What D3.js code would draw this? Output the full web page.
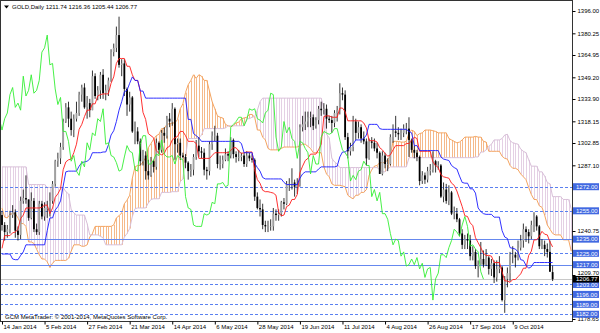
<!DOCTYPE html>
<html>
<head>
<meta charset="utf-8">
<script src="https://cdn.jsdelivr.net/npm/d3@7/dist/d3.min.js"></script>
<style>
  body { margin: 0; background: #fff; }
  text { font-family: "Liberation Sans", Arial, sans-serif; }
</style>
</head>
<body>
<svg id="chart" width="600" height="333"></svg>
<script>
// GOLD daily bars, 14 Jan 2014 .. 30 Oct 2014 (weekdays)
var open = [1252,1245,1240,1242,1252,1254,1241,1238,1262,1264, 1263,1250,1262,1242,1240,1260,1251,1257,1257,1262,
  1274,1290,1292,1300,1318,1328,1320,1312,1320,1324, 1337,1342,1328,1331,1326,1350,1336,1340,1351,1338,
  1340,1347,1367,1370,1379,1358,1359,1341,1330,1335, 1311,1311,1304,1290,1294,1283,1280,1290,1286,1303,
  1298,1310,1308,1320,1318,1327,1302,1303,1294,1293, 1289,1283,1284,1293,1301,1297,1296,1284,1283,1302,
  1308,1308,1288,1288,1291,1295,1294,1305,1295,1293, 1293,1294,1288,1294,1292,1291,1265,1257,1256,1245,
  1244,1244,1244,1253,1252,1253,1261,1260,1274,1274, 1275,1272,1273,1314,1316,1318,1321,1321,1315,1319,
  1327,1326,1327,1320,1319,1317,1324,1326,1338,1337, 1307,1297,1300,1318,1310,1314,1306,1304,1292,1304,
  1303,1299,1296,1281,1294,1288,1288,1307,1311,1310, 1309,1310,1313,1313,1305,1298,1296,1293,1276,1280,
  1277,1283,1284,1290,1287,1287,1265,1270,1262,1268, 1253,1253,1249,1239,1231,1235,1234,1223,1226,1216,
  1217,1221,1217,1222,1214,1218,1208,1214,1215,1192, 1207,1211,1224,1224,1222,1229,1234,1242,1240,1237,
  1245,1251,1244,1230,1231,1228,1226,1211.74];
var high = [1255,1247,1245,1255,1259,1256,1244,1265,1270,1280, 1263,1268,1264,1246,1262,1262,1261,1262,1268,1276,
  1291,1296,1303,1320,1331,1332,1325,1323,1332,1339, 1344,1345,1336,1334,1354,1352,1343,1353,1355,1344,
  1349,1369,1373,1385,1392,1362,1362,1342,1339,1336, 1318,1314,1306,1298,1297,1291,1293,1291,1306,1304,
  1312,1314,1322,1324,1331,1328,1306,1306,1296,1295, 1290,1288,1295,1305,1307,1300,1299,1286,1304,1311,
  1315,1310,1294,1294,1299,1297,1307,1306,1297,1298, 1296,1296,1297,1296,1295,1292,1268,1263,1260,1248,
  1248,1249,1257,1256,1256,1262,1264,1276,1278,1285, 1277,1278,1316,1322,1325,1325,1325,1323,1321,1329,
  1332,1331,1330,1322,1322,1326,1329,1345,1342,1340, 1310,1303,1322,1320,1318,1316,1311,1306,1306,1307,
  1306,1303,1297,1297,1296,1292,1309,1316,1322,1314, 1313,1316,1317,1321,1306,1301,1298,1294,1283,1282,
  1286,1288,1297,1291,1290,1288,1275,1274,1273,1269, 1258,1257,1250,1242,1238,1239,1238,1230,1228,1220,
  1233,1227,1228,1223,1221,1220,1220,1223,1216,1209, 1215,1226,1230,1226,1234,1238,1246,1244,1242,1248,
  1254,1252,1245,1235,1234,1232,1234,1216.36];
var low = [1241,1234,1236,1239,1250,1236,1234,1235,1260,1260, 1248,1249,1240,1238,1238,1249,1248,1250,1251,1260,
  1272,1286,1288,1298,1317,1314,1308,1307,1318,1322, 1332,1327,1320,1321,1326,1334,1333,1334,1334,1333,
  1336,1346,1364,1367,1356,1350,1336,1322,1325,1310, 1302,1302,1287,1287,1277,1277,1279,1282,1284,1295,
  1296,1303,1306,1314,1315,1291,1296,1291,1292,1285, 1277,1279,1280,1291,1293,1292,1280,1277,1280,1298,
  1304,1285,1284,1285,1290,1290,1292,1292,1289,1290, 1290,1286,1286,1290,1289,1262,1256,1251,1242,1240,
  1240,1241,1241,1248,1248,1251,1256,1259,1269,1270, 1265,1267,1272,1311,1312,1314,1314,1312,1313,1316,
  1322,1323,1313,1317,1310,1314,1318,1323,1333,1305, 1292,1294,1297,1305,1306,1303,1302,1287,1291,1299,
  1297,1292,1281,1280,1285,1283,1287,1303,1307,1305, 1305,1307,1309,1293,1296,1292,1290,1273,1274,1274,
  1275,1280,1282,1282,1284,1264,1261,1260,1259,1252, 1249,1247,1237,1228,1228,1228,1220,1220,1214,1208,
  1217,1215,1216,1210,1209,1204,1205,1211,1191,1183, 1201,1205,1218,1215,1220,1227,1229,1233,1232,1235,
  1240,1241,1228,1228,1223,1222,1212,1205.44];
var close = [1245,1240,1242,1252,1254,1241,1238,1262,1264,1263, 1250,1262,1242,1240,1260,1251,1257,1257,1262,1274,
  1290,1292,1300,1318,1328,1320,1312,1320,1324,1337, 1342,1328,1331,1326,1350,1336,1340,1351,1338,1340,
  1347,1367,1370,1379,1358,1359,1341,1330,1335,1311, 1311,1304,1290,1294,1283,1280,1290,1286,1303,1298,
  1310,1308,1320,1318,1327,1302,1303,1294,1293,1289, 1283,1284,1293,1301,1297,1296,1284,1283,1302,1308,
  1308,1288,1288,1291,1295,1294,1305,1295,1293,1293, 1294,1288,1294,1292,1291,1265,1257,1256,1245,1244,
  1244,1244,1253,1252,1253,1261,1260,1274,1274,1275, 1272,1273,1314,1316,1318,1321,1321,1315,1319,1327,
  1326,1327,1320,1319,1317,1324,1326,1338,1337,1307, 1297,1300,1318,1310,1314,1306,1304,1292,1304,1303,
  1299,1296,1281,1294,1288,1288,1307,1311,1310,1309, 1310,1313,1313,1305,1298,1296,1293,1276,1280,1277,
  1283,1284,1290,1287,1287,1265,1270,1262,1268,1253, 1253,1249,1239,1231,1235,1234,1223,1226,1216,1217,
  1221,1217,1222,1214,1218,1208,1214,1215,1192,1207, 1211,1224,1224,1222,1229,1234,1242,1240,1237,1245,
  1251,1244,1230,1231,1228,1226,1212,1206.77];

// Ichimoku lines, one value per bar
var tenkan = [1228.5,1237.5,1237.5,1237.5,1239.5,1240,1242,1249.5,1252,1257, 1257,1257,1257,1257,1257,1257.5,1259,1259,1253,1257,
  1264.5,1267,1270.5,1284,1289.5,1291,1291.5,1296,1302,1312.5, 1316,1321.5,1326,1326,1330.5,1330.5,1336,1337,1337.5,1337.5,
  1337.5,1345,1349.5,1359,1362.5,1362.5,1362.5,1357,1357,1351, 1347,1347,1339.5,1324.5,1319.5,1309.5,1308,1306.5,1297.5,1295.5,
  1294.5,1295.5,1299.5,1300.5,1305,1306.5,1307.5,1311,1311,1308, 1304,1304,1304,1302.5,1292,1292,1292,1292,1292,1294,
  1296,1296,1296,1296,1296,1296,1297.5,1299.5,1299.5,1297, 1295.5,1296,1296.5,1296.5,1296.5,1284,1277,1274.5,1269.5,1268.5,
  1268.5,1268,1267.5,1266,1254,1251.5,1252,1258,1259,1263, 1263,1266.5,1282,1286.5,1290.5,1292,1295,1295,1295,1298,
  1302,1321.5,1322,1322,1321,1321,1321,1327.5,1327.5,1325, 1318.5,1318.5,1318.5,1318.5,1318.5,1318.5,1317,1313.5,1304.5,1304.5,
  1304.5,1303.5,1299.5,1298,1295.5,1293.5,1294.5,1298,1301,1301, 1301,1301,1302.5,1302.5,1304.5,1307,1306,1297,1297,1297,
  1297,1297,1289.5,1287,1285.5,1280.5,1279,1278.5,1278,1274.5, 1273,1269,1263.5,1258,1251.5,1251,1246.5,1244.5,1236,1232.5,
  1229,1225,1223.5,1223.5,1223,1218.5,1218.5,1218.5,1212,1205.5, 1205.5,1204.5,1206.5,1206.5,1208.5,1210.5,1214.5,1214.5,1223.5,1226.5,
  1234.5,1234.5,1237,1240.5,1238.5,1238,1233,1229.5];
var kijun = [1224.5,1224.5,1224.5,1224.5,1221,1220.5,1220.5,1223.5,1226,1231, 1231,1231,1231,1231,1231,1231,1231,1241,1250,1250,
  1255.5,1258,1262,1272.5,1282.5,1283,1283,1283,1283,1286.5, 1289,1289.5,1290,1291.5,1296,1296,1296,1296,1296.5,1296.5,
  1301.5,1308.5,1311.5,1318,1326,1332,1339,1340,1345,1349.5, 1347,1347,1339.5,1339.5,1334.5,1334.5,1334.5,1334.5,1334.5,1334.5,
  1334.5,1334.5,1334.5,1334.5,1334.5,1334.5,1334.5,1334.5,1334.5,1334.5, 1319.5,1319.5,1309.5,1308,1306.5,1304,1304,1304,1304,1304,
  1304,1304,1304,1304,1304,1304,1304,1304,1304,1304, 1302.5,1296,1296,1296,1296,1288.5,1285.5,1283,1278.5,1277.5,
  1277.5,1277.5,1277.5,1277.5,1277.5,1277.5,1275,1273.5,1273.5,1273.5, 1273.5,1273.5,1278,1281,1282.5,1282.5,1282.5,1282.5,1282.5,1284.5,
  1286,1286,1286,1286,1286,1286,1286.5,1293,1296.5,1296.5, 1298,1300.5,1302,1305,1305,1305,1306,1308.5,1316,1316,
  1316,1316,1313,1312.5,1312.5,1312.5,1312.5,1312.5,1312.5,1312.5, 1312.5,1312.5,1312.5,1311,1310,1301,1301,1297.5,1297.5,1297.5,
  1297.5,1297.5,1297.5,1297.5,1297.5,1293,1291.5,1291,1290.5,1287, 1285.5,1284.5,1279.5,1275,1274.5,1274.5,1270.5,1270.5,1267.5,1257,
  1254.5,1253,1252.5,1252.5,1252.5,1250.5,1250.5,1250.5,1241,1236.5, 1235.5,1229,1228.5,1228,1226,1220.5,1220,1216.5,1214.5,1215.5,
  1218.5,1218.5,1218.5,1218.5,1218.5,1218.5,1218.5,1218.5];
// Senkou spans as plotted (already shifted 26 bars ahead), bar 0 .. 214
var spanA = [1257,1250.5,1250,1252.5,1253,1253,1250,1246,1246,1244, 1233,1233,1232,1228,1224,1221,1221,1219,1215,1218,
  1220,1220,1220,1220,1220,1221.5,1226.5,1231,1231,1231, 1230,1230,1231,1236.5,1239,1244,1244,1244,1244,1244,
  1244,1244,1245,1250,1251.5,1253.5,1260,1262.5,1266,1278, 1286,1287,1287,1289.5,1292.5,1299.5,1302.5,1305.5,1308,1309,
  1313,1313,1316,1316.5,1317,1317,1319.5,1327,1330.5,1338.5, 1344,1347,1351,1348.5,1351,1350,1347,1347,1339.5,1332,
  1327,1322,1321,1320.5,1316,1315,1314.5,1315,1317,1317.5, 1320,1320.5,1321,1323,1323,1321,1312,1312,1307,1305,
  1299,1298,1298,1298,1298,1299,1300,1300,1300,1300, 1300,1300,1301,1302,1302,1300.5,1299,1296,1296,1296,
  1296,1286,1281,1279,1274,1273,1273,1273,1272.5,1272, 1266,1264.5,1263.5,1266,1266,1268,1268,1270,1280,1284,
  1286.5,1287,1289,1289,1289,1291,1294,1304,1304,1304, 1303.5,1303.5,1304,1310,1312,1311,1308,1309.5,1310,1312,
  1312,1312,1311.5,1311,1310,1310,1310,1310,1306,1305, 1304,1303,1303.5,1305,1307,1307,1307,1307,1307.5,1307,
  1307,1304,1303.5,1297,1297,1297,1297,1297,1293.5,1292, 1291.5,1287,1285,1285,1284,1281,1279,1277,1271.5,1266.5,
  1263,1263,1258.5,1257.5,1252,1245,1242,1239,1238,1238, 1238,1234.5,1234.5,1234.5,1226.5];
var spanB = [1286,1286,1286,1286,1286,1286,1286,1286,1286,1286, 1273.5,1273.5,1273.5,1273.5,1273.5,1273.5,1273.5,1271.5,1271.5,1271.5,
  1271.5,1271.5,1271.5,1271.5,1268.5,1267,1256,1253.5,1252,1252, 1252,1252,1246,1238,1238,1238,1238,1237,1236,1231,
  1231,1231,1231,1231,1231,1231,1236.5,1239,1242.5,1251, 1256.5,1257,1257,1257,1257,1260.5,1263,1263.5,1263.5,1263.5,
  1268,1268,1268,1268,1268.5,1268.5,1268.5,1275.5,1277.5,1293.5, 1306,1306,1306,1306,1306.5,1308.5,1313,1313,1313,1313,
  1313,1313,1313,1313,1313.5,1315,1315,1315,1315,1315, 1315,1315,1320,1320,1321,1321.5,1326,1332,1334.5,1334.5,
  1334.5,1334.5,1334.5,1334.5,1334.5,1334.5,1334.5,1334.5,1334.5,1334.5, 1334.5,1334.5,1334.5,1334.5,1334.5,1334.5,1334.5,1334.5,1334.5,1334.5,
  1334.5,1327,1309,1306.5,1292,1289.5,1288,1285.5,1285.5,1285.5, 1285.5,1285.5,1285.5,1285.5,1285.5,1285.5,1285.5,1285.5,1285.5,1285.5,
  1285.5,1285.5,1284,1282.5,1282.5,1284.5,1286,1286,1286,1286, 1286,1286,1286,1292.5,1292.5,1292.5,1292.5,1292.5,1292.5,1292.5,
  1292.5,1292.5,1292.5,1292.5,1292.5,1292.5,1292.5,1292.5,1292.5,1292.5, 1292.5,1292.5,1292.5,1292.5,1292.5,1292.5,1292.5,1292.5,1293,1293,
  1296.5,1296.5,1298,1300.5,1302,1305,1305,1305,1306,1308.5, 1309,1304.5,1303,1302.5,1302,1298.5,1297,1296,1291,1286.5,
  1286.5,1286.5,1282.5,1282.5,1279.5,1275,1274,1265,1265,1265, 1265,1263,1263,1263,1256.5];

// price scale labels left visible on the right (the rest sit under line tags)
var priceTicks = [1396.00,1380.25,1364.95,1349.20,1333.90,1318.15,1302.85,1287.10,1240.75,1209.70,1178.65];
var dateTicks = ["14 Jan 2014","5 Feb 2014","27 Feb 2014","21 Mar 2014","14 Apr 2014","6 May 2014","28 May 2014",
  "19 Jun 2014","11 Jul 2014","4 Aug 2014","26 Aug 2014","17 Sep 2014","9 Oct 2014"];
// horizontal line objects
var dashedLevels = [1272, 1255, 1225, 1203, 1196, 1189, 1182];
var solidLevels = [1235, 1217];
var bid = 1206.77;

// weekday calendar for the bars
var dates = [];
for (var t = Date.UTC(2014,0,14); t <= Date.UTC(2014,9,30); t += 864e5) {
  var wd = new Date(t).getUTCDay();
  if (wd != 0 && wd != 6) dates.push(new Date(t));
}
var fmtDate = d3.utcFormat("%-d %b %Y");
var dateIdx = dates.map(fmtDate);

var svg = d3.select("#chart");
var plotR = 572, plotB = 321;

var x = d3.scaleLinear().domain([0, 207]).range([2, 2 + 207 * 2.66]);
var y = d3.scaleLinear().domain([1178.65, 1396]).range([319, 11]);

svg.append("defs").append("clipPath").attr("id", "plot")
  .append("rect").attr("x", 1).attr("y", 1).attr("width", plotR - 1).attr("height", plotB - 1);

var g = svg.append("g").attr("clip-path", "url(#plot)");

// kumo hatch
var cloud = d3.range(spanA.length);
g.selectAll(".hatch").data(cloud).enter().append("line")
  .attr("x1", function(j) { return Math.round(x(j)) + 0.5; })
  .attr("x2", function(j) { return Math.round(x(j)) + 0.5; })
  .attr("y1", function(j) { return y(spanA[j]); })
  .attr("y2", function(j) { return y(spanB[j]); })
  .style("stroke", function(j) { return spanA[j] >= spanB[j] ? "#f5b98a" : "#e4d0e4"; })
  .style("stroke-width", 1);

var lineOf = function(arr, shift) {
  return d3.line()
    .x(function(d, i) { return x(i + shift); })
    .y(function(d) { return y(d); })(arr);
};
g.append("path").attr("d", lineOf(spanA, 0)).style("fill", "none").style("stroke", "#f4a460").style("stroke-width", 1);
g.append("path").attr("d", lineOf(spanB, 0)).style("fill", "none").style("stroke", "#d8bfd8").style("stroke-width", 1);

// horizontal objects
g.append("line").attr("x1", 0).attr("x2", plotR).attr("y1", Math.round(y(bid)) + 0.5).attr("y2", Math.round(y(bid)) + 0.5)
  .style("stroke", "#c8c8c8").style("stroke-width", 1);
g.selectAll(".dl").data(dashedLevels).enter().append("line")
  .attr("x1", 0).attr("x2", plotR)
  .attr("y1", function(d) { return Math.round(y(d)) + 0.5; })
  .attr("y2", function(d) { return Math.round(y(d)) + 0.5; })
  .style("stroke", "#5a80f0").style("stroke-width", 1).style("stroke-dasharray", "3,2");
g.selectAll(".sl").data(solidLevels).enter().append("line")
  .attr("x1", 0).attr("x2", plotR)
  .attr("y1", function(d) { return Math.round(y(d)) + 0.5; })
  .attr("y2", function(d) { return Math.round(y(d)) + 0.5; })
  .style("stroke", "#6688ee").style("stroke-width", 1);

// candles
var bars = g.selectAll(".bar").data(close).enter().append("g");
bars.append("line")
  .attr("x1", function(d, i) { return x(i); }).attr("x2", function(d, i) { return x(i); })
  .attr("y1", function(d, i) { return y(high[i]); }).attr("y2", function(d, i) { return y(low[i]); })
  .style("stroke", "#000").style("stroke-width", 0.8);
bars.append("rect")
  .attr("x", function(d, i) { return x(i) - 0.9; })
  .attr("width", 1.8)
  .attr("y", function(d, i) { return y(Math.max(open[i], close[i])); })
  .attr("height", function(d, i) { return Math.max(0.6, Math.abs(y(open[i]) - y(close[i]))); })
  .style("fill", function(d, i) { return close[i] >= open[i] ? "#a0a0a0" : "#000"; });

// tenkan, kijun, chikou
g.append("path").attr("d", lineOf(tenkan, 0)).style("fill", "none").style("stroke", "#ff1a1a").style("stroke-width", 0.9);
g.append("path").attr("d", lineOf(kijun, 0)).style("fill", "none").style("stroke", "#1a1aff").style("stroke-width", 0.9);
g.append("path").attr("d", lineOf(close, -26)).style("fill", "none").style("stroke", "#33ee33").style("stroke-width", 0.9);

// frame
svg.append("rect").attr("x", 0.5).attr("y", 0.5).attr("width", plotR).attr("height", plotB)
  .style("fill", "none").style("stroke", "#333").style("stroke-width", 1);

// right price scale
var yAxis = svg.append("g").attr("transform", "translate(" + (plotR + 0.5) + ",0)")
  .call(d3.axisRight(y).tickValues(priceTicks).tickFormat(d3.format(".2f")).tickSize(3).tickPadding(2));
yAxis.select(".domain").remove();
yAxis.selectAll("text").style("font-size", "6px").style("fill", "#000").style("font-family", "Liberation Sans, Arial, sans-serif")
  .attr("dy", function(d) { return d === 1209.70 ? "-0.05em" : "0.32em"; });
yAxis.selectAll("line").style("stroke", "#000");

// line labels on the scale
var tags = dashedLevels.concat(solidLevels);
svg.selectAll(".tag").data(tags).enter().append("rect")
  .attr("x", plotR + 1).attr("width", 26)
  .attr("y", function(d) { return y(d) - 3.5; }).attr("height", 7)
  .style("fill", "#4169e1");
svg.selectAll(".tagt").data(tags).enter().append("text")
  .attr("x", plotR + 4).attr("y", function(d) { return y(d) + 2.2; })
  .text(function(d) { return d3.format(".2f")(d); })
  .style("font-size", "6px").style("fill", "#fff");
svg.append("rect").attr("x", plotR + 1).attr("width", 26).attr("y", y(bid) - 3.2).attr("height", 6.6).style("fill", "#000");
svg.append("text").attr("x", plotR + 4).attr("y", y(bid) + 2.2).text(d3.format(".2f")(bid))
  .style("font-size", "6px").style("fill", "#fff");

// date scale
var tickIdx = dateTicks.map(function(s) { return dateIdx.indexOf(s); });
var xAxis = svg.append("g").attr("transform", "translate(0," + (plotB + 0.5) + ")")
  .call(d3.axisBottom(x).tickValues(tickIdx).tickFormat(function(i) { return dateIdx[i]; }).tickSize(3).tickPadding(1));
xAxis.select(".domain").remove();
xAxis.selectAll("line").style("stroke", "#000");
xAxis.selectAll("text").style("font-size", "6px").style("fill", "#000")
  .attr("text-anchor", "start").attr("dx", "1").attr("dy", "0.55em")
  .style("font-family", "Liberation Sans, Arial, sans-serif");

// title and copyright
svg.append("path").attr("d", "M4,5.5L9,5.5L6.5,8.5Z").style("fill", "#000");
svg.append("text").attr("x", 12).attr("y", 9)
  .text("GOLD,Daily  1211.74 1216.36 1205.44 1206.77")
  .style("font-size", "6px").style("fill", "#000");
svg.append("text").attr("x", 5).attr("y", 318.5)
  .text("GCM MetaTrader: \u00a9 2001-2014, MetaQuotes Software Corp.")
  .style("font-size", "6px").style("fill", "#000");
</script>
</body>
</html>
